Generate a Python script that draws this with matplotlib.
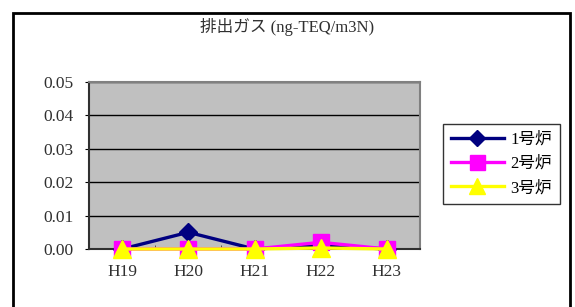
import matplotlib
matplotlib.use("Agg")
import matplotlib.pyplot as plt
from matplotlib.patches import Rectangle

plt.rcParams['font.family'] = ['Liberation Serif', 'Noto Sans CJK JP']

years = ['H19', 'H20', 'H21', 'H22', 'H23']
furnace1 = [0.0, 0.005, 0.0, 0.001, 0.0]
furnace2 = [0.0, 0.0, 0.0, 0.002, 0.0]
furnace3 = [0.0, 0.0, 0.0, 0.0003, 0.0]
labels = ['1号炉', '2号炉', '3号炉']
y_ticks = [0.00, 0.01, 0.02, 0.03, 0.04, 0.05]

fig = plt.figure(figsize=(5.75, 3.07), dpi=100)
ax = fig.add_axes([89 / 575, 1 - 249 / 307, 331 / 575, 167 / 307])
ax.set_facecolor('#c0c0c0')

x = range(len(years))
ax.plot(x, furnace1, color='#000080', lw=2.4, marker='D', ms=9.5, label=labels[0],
        zorder=3, clip_on=False)
ax.plot(x, furnace2, color='#ff00ff', lw=2.4, marker='s', ms=12, label=labels[1],
        zorder=4, clip_on=False)
ax.plot(x, furnace3, color='#ffff00', lw=2.4, marker='^', ms=13, label=labels[2],
        zorder=5, clip_on=False)

ax.set_xlim(-0.5, len(years) - 0.5)
ax.set_ylim(0, 0.05)
ax.set_yticks(y_ticks)
ax.set_yticklabels(['%.2f' % v for v in y_ticks])
ax.set_xticks(list(x))
ax.set_xticklabels(years)
ax.set_xticks([i + 0.5 for i in range(len(years) - 1)], minor=True)
ax.tick_params(axis='x', which='major', length=0, pad=11, labelsize=12.5)
ax.tick_params(axis='x', which='minor', length=3, direction='in', color='#404040')
ax.tick_params(axis='y', length=3, direction='out', pad=8, labelsize=12.5)
for v in y_ticks[1:]:
    ax.axhline(v, color='black', lw=1.0, zorder=1)
for side in ['top', 'right']:
    ax.spines[side].set_color('#808080')
    ax.spines[side].set_linewidth(1.5)
for side in ['left', 'bottom']:
    ax.spines[side].set_color('#303030')
    ax.spines[side].set_linewidth(1.5)
for lbl in ax.get_xticklabels() + ax.get_yticklabels():
    lbl.set_color('#303030')

leg = ax.legend(loc='upper left', bbox_to_anchor=(443 / 575, 1 - 124 / 307),
                bbox_transform=fig.transFigure, frameon=True, fancybox=False,
                edgecolor='black', fontsize=12, handlelength=3.2,
                borderpad=0.45, labelspacing=0.5, handletextpad=0.4,
                borderaxespad=0, markerscale=0.9)
leg.get_frame().set_linewidth(1.0)

fig.text(0.5, 1 - 27 / 307, '排出ガス (ng-TEQ/m3N)', ha='center', va='center',
         fontsize=12, color='#303030')

fig.patches.append(Rectangle((13 / 575, -0.1), (570 - 13) / 575, 1.1 - 13 / 307,
                             transform=fig.transFigure, fill=False,
                             edgecolor='black', lw=2.0))

fig.savefig('out.png', dpi=100)
